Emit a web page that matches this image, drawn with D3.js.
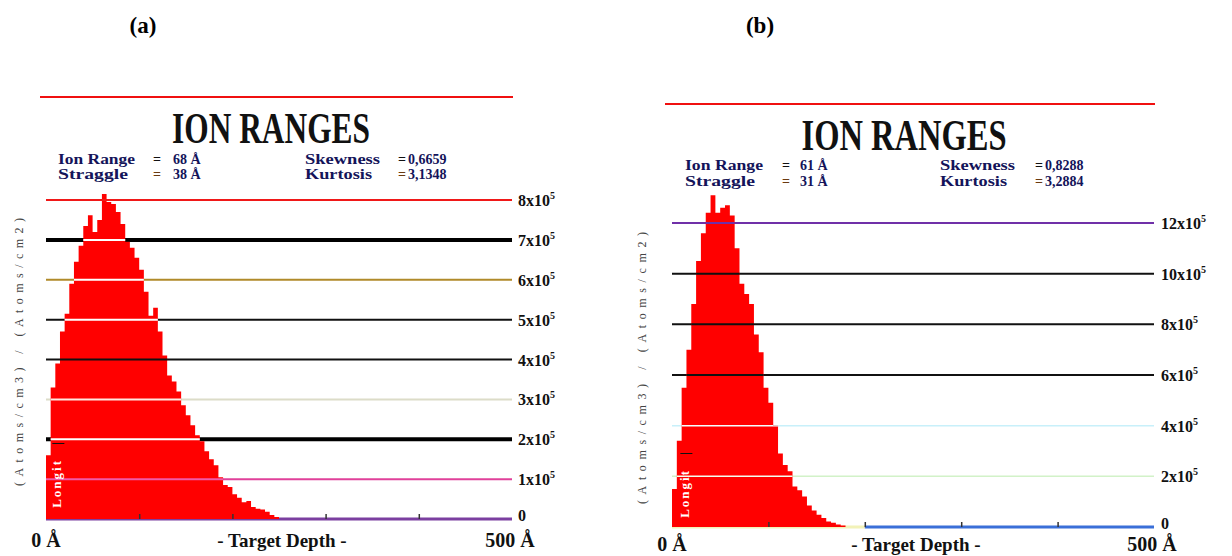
<!DOCTYPE html>
<html>
<head>
<meta charset="utf-8">
<script src="https://cdn.jsdelivr.net/npm/d3@7"></script>
<style>
  body { margin: 0; background: #fff; }
  svg { display: block; }
  text { font-family: "Liberation Serif", "Times New Roman", serif; }
</style>
</head>
<body>
<svg id="chart" width="1232" height="556"></svg>
<script>
// ---------- data ----------
// Histogram bin starts (Å), 5 Å wide bins
const depthA = [0,5,10,15,20,25,30,35,40,45,50,55,60,65,70,75,80,85,90,95,
                100,105,110,115,120,125,130,135,140,145,150,155,160,165,170,175,180,185,190,195,
                200,205,210,215,220,225,230,235,240,245];
// Ion distribution, units of 10^5 (Atoms/cm3)/(Atoms/cm2)
const countsA = [1.6,3.3,3.9,4.7,5.15,5.9,6.45,6.85,7.35,7.62,7.2,7.5,8.15,7.95,7.9,7.7,7.4,6.95,6.8,6.55,
                 6.25,5.7,5.1,5.3,4.7,4.1,3.6,3.45,3.2,2.85,2.6,2.35,2.1,1.95,1.7,1.5,1.35,1.05,0.85,0.8,
                 0.62,0.53,0.42,0.45,0.3,0.26,0.24,0.18,0.1,0.05];

const depthB = [0,5,10,15,20,25,30,35,40,45,50,55,60,65,70,75,80,85,90,95,
                100,105,110,115,120,125,130,135,140,145,150,155,160,165,170,175];
const countsB = [1.5,3.4,5.5,7.0,8.8,10.5,11.6,12.4,13.1,12.4,12.6,12.7,12.3,11.0,9.6,9.2,8.8,7.6,6.9,5.5,
                 4.9,4.0,2.9,2.45,2.2,1.6,1.45,1.2,0.85,0.65,0.48,0.36,0.22,0.17,0.1,0.06];

// Right-hand scale ticks (×10^5)
const ticksA = [0,1,2,3,4,5,6,7,8];
const tickLabelsA = ["0","1x10","2x10","3x10","4x10","5x10","6x10","7x10","8x10"];
const ticksB = [0,2,4,6,8,10,12];
const tickLabelsB = ["0","2x10","4x10","6x10","8x10","10x10","12x10"];
const tickExponent = "5";

// Depth axis
const depthDomain = [0, 500];
const depthTicks = [100,200,300,400];
const depthLabels = ["0 Å", "- Target Depth -", "500 Å"];

// Moments printed under the title
const statNamesLeft = ["Ion Range", "Straggle"];
const statNamesRight = ["Skewness", "Kurtosis"];
const statsA = { left: ["68 Å", "38 Å"], right: ["0,6659", "3,1348"] };
const statsB = { left: ["61 Å", "31 Å"], right: ["0,8288", "3,2884"] };

const titleText = "ION RANGES";
const yAxisText = "(Atoms/cm3) / (Atoms/cm2)";
const legendText = "Longit";

// ---------- styles per gridline ----------
const gridStylesA = [
  { c: "#7b3fa0", w: 3,   inside: null },      // 0
  { c: "#e0409a", w: 2,   inside: "#f05aa8" }, // 1
  { c: "#000",    w: 4,   inside: "#fff" },    // 2
  { c: "#dcdcc8", w: 2,   inside: "#ffe8e0" }, // 3
  { c: "#111",    w: 2,   inside: "#111" },    // 4
  { c: "#111",    w: 2,   inside: "#fff" },    // 5
  { c: "#b08a2a", w: 2,   inside: "#fff" },    // 6
  { c: "#000",    w: 4,   inside: "#fff" },    // 7
  { c: "#f01818", w: 2,   inside: "#f01818" }  // 8
];
const gridStylesB = [
  { c: "#3a6fd8", w: 3,   inside: null, split: 200, before: "#f2f2b8" }, // 0
  { c: "#d2f2c8", w: 1.5, inside: "#f4fff0" }, // 2
  { c: "#c8f0fa", w: 1.5, inside: "#f4ffff" }, // 4
  { c: "#111",    w: 2,   inside: "#111" },    // 6
  { c: "#111",    w: 2,   inside: "#111" },    // 8
  { c: "#111",    w: 2,   inside: "#111" },    // 10
  { c: "#7030a8", w: 2,   inside: "#7030a8" }  // 12
];

// ---------- layout ----------
const panels = [
  {
    id: "a", letter: "(a)", letterX: 143,
    rule: [40, 513, 97],
    titleX: 271, titleY: 143, titleW: 198,
    statY: [164, 179],
    statX: { name: 58, eq: 153, val: 173, name2: 305, eq2: 398, val2: 408 },
    statW: [77, 70, 75, 67],
    x0: 46, x1: 512, yBase: 519, yTop: 200, yMax: 8,
    labelX: 518, bottomY: 547,
    yLabelX: 19, yLabelY: 352, yLabelLen: 268,
    noteX: 61, noteY: 474,
    depth: depthA, counts: countsA, ticks: ticksA, tickLabels: tickLabelsA,
    grid: gridStylesA, stats: statsA
  },
  {
    id: "b", letter: "(b)", letterX: 760,
    rule: [665, 1155, 104],
    titleX: 904, titleY: 150, titleW: 205,
    statY: [170, 186],
    statX: { name: 685, eq: 782, val: 800, name2: 940, eq2: 1035, val2: 1045 },
    statW: [78, 70, 75, 67],
    x0: 672, x1: 1154, yBase: 527, yTop: 223, yMax: 12,
    labelX: 1161, bottomY: 551,
    yLabelX: 642, yLabelY: 368, yLabelLen: 272,
    noteX: 689, noteY: 484,
    depth: depthB, counts: countsB, ticks: ticksB, tickLabels: tickLabelsB,
    grid: gridStylesB, stats: statsB
  }
];

const svg = d3.select("#chart");
const defs = svg.append("defs");

function drawPanel(p) {
  const g = svg.append("g").attr("class", "panel-" + p.id);
  const x = d3.scaleLinear().domain(depthDomain).range([p.x0, p.x1]);
  const y = d3.scaleLinear().domain([0, p.yMax]).range([p.yBase, p.yTop]);

  // panel letter
  g.append("text")
    .attr("x", p.letterX).attr("y", 33)
    .attr("text-anchor", "middle")
    .attr("font-size", 23).attr("font-weight", "bold")
    .text(p.letter);

  // red rule above the title
  g.append("line")
    .attr("x1", p.rule[0]).attr("x2", p.rule[1])
    .attr("y1", p.rule[2]).attr("y2", p.rule[2])
    .attr("stroke", "#f01010").attr("stroke-width", 2);

  // title
  g.append("text")
    .attr("x", p.titleX - p.titleW / 2).attr("y", p.titleY)
    .attr("font-size", 45).attr("font-weight", "bold")
    .attr("textLength", p.titleW).attr("lengthAdjust", "spacingAndGlyphs")
    .attr("fill", "#111")
    .text(titleText);

  // statistics block
  const st = g.append("g")
    .attr("font-size", 14).attr("font-weight", "bold").attr("fill", "#14145a");
  [0, 1].forEach(r => {
    st.append("text").attr("x", p.statX.name).attr("y", p.statY[r])
      .attr("textLength", p.statW[r]).attr("lengthAdjust", "spacingAndGlyphs")
      .text(statNamesLeft[r]);
    st.append("text").attr("x", p.statX.eq).attr("y", p.statY[r]).attr("fill", r ? "#6a3a10" : "#111").text("=");
    st.append("text").attr("x", p.statX.val).attr("y", p.statY[r]).text(p.stats.left[r]);
    st.append("text").attr("x", p.statX.name2).attr("y", p.statY[r])
      .attr("textLength", p.statW[r + 2]).attr("lengthAdjust", "spacingAndGlyphs")
      .text(statNamesRight[r]);
    st.append("text").attr("x", p.statX.eq2).attr("y", p.statY[r]).attr("fill", r ? "#6a3a10" : "#111").text("=");
    st.append("text").attr("x", p.statX.val2).attr("y", p.statY[r]).text(p.stats.right[r]);
  });

  // gridlines (underneath the histogram)
  const grid = g.append("g");
  p.ticks.forEach((t, i) => {
    const s = p.grid[i];
    if (s.split !== undefined) {
      grid.append("line")
        .attr("x1", x(0)).attr("x2", x(s.split))
        .attr("y1", y(t)).attr("y2", y(t))
        .attr("stroke", s.before).attr("stroke-width", s.w);
      grid.append("line")
        .attr("x1", x(s.split)).attr("x2", x(500))
        .attr("y1", y(t)).attr("y2", y(t))
        .attr("stroke", s.c).attr("stroke-width", s.w);
    } else {
      grid.append("line")
        .attr("x1", x(0)).attr("x2", x(500))
        .attr("y1", y(t)).attr("y2", y(t))
        .attr("stroke", s.c).attr("stroke-width", s.w);
    }
  });

  // histogram as a stepped area
  const pts = p.depth.map((d, i) => ({ d, v: p.counts[i] }));
  const last = p.depth[p.depth.length - 1];
  pts.push({ d: last + (last - p.depth[p.depth.length - 2]), v: 0 });
  const area = d3.area()
    .x(d => x(d.d))
    .y0(y(0))
    .y1(d => y(d.v))
    .curve(d3.curveStepAfter);

  g.append("path")
    .attr("d", area(pts))
    .attr("fill", "#ff0000");

  defs.append("clipPath").attr("id", "hist-" + p.id)
    .append("path").attr("d", area(pts));

  // gridline segments where they run across the histogram
  const inner = g.append("g").attr("clip-path", "url(#hist-" + p.id + ")");
  p.ticks.forEach((t, i) => {
    const s = p.grid[i];
    if (!s.inside) return;
    inner.append("line")
      .attr("x1", x(0)).attr("x2", x(500))
      .attr("y1", y(t)).attr("y2", y(t))
      .attr("stroke", s.inside).attr("stroke-width", Math.min(s.w, 2));
  });

  // depth ticks on the baseline
  const ax = g.append("g")
    .attr("transform", `translate(0,${y(0)})`)
    .call(d3.axisTop(x).tickValues(depthTicks).tickSize(5).tickFormat(""));
  ax.select(".domain").remove();
  ax.selectAll(".tick line").attr("stroke", "#333").attr("stroke-width", 1.5);

  // right-hand tick labels
  const lab = g.append("g").attr("font-size", 16).attr("font-weight", "bold").attr("fill", "#111");
  p.ticks.forEach((t, i) => {
    const tx = lab.append("text").attr("x", p.labelX).attr("y", y(t) + (t === 0 ? 2 : 6));
    tx.append("tspan").text(p.tickLabels[i]);
    if (t !== 0) {
      tx.append("tspan").attr("dy", -7).attr("font-size", 10).text(tickExponent);
    }
  });

  // depth axis labels
  const bl = g.append("g").attr("font-size", 20).attr("font-weight", "bold").attr("fill", "#111");
  bl.append("text").attr("x", x(0)).attr("y", p.bottomY).attr("text-anchor", "middle").text(depthLabels[0]);
  bl.append("text").attr("x", x(250) + 3).attr("y", p.bottomY).attr("text-anchor", "middle")
    .attr("font-size", 19).text(depthLabels[1]);
  bl.append("text").attr("x", x(500) - 2).attr("y", p.bottomY).attr("text-anchor", "middle").text(depthLabels[2]);

  // vertical axis title
  g.append("text")
    .attr("transform", `translate(${p.yLabelX},${p.yLabelY}) rotate(-90)`)
    .attr("x", -p.yLabelLen / 2).attr("y", 4)
    .attr("font-size", 12).attr("fill", "#444")
    .attr("textLength", p.yLabelLen).attr("lengthAdjust", "spacing")
    .text(yAxisText);

  // legend note drawn across the histogram
  const note = g.append("text")
    .attr("transform", `translate(${p.noteX},${p.noteY}) rotate(-90)`)
    .attr("text-anchor", "middle")
    .attr("font-size", 13).attr("font-weight", "bold")
    .attr("letter-spacing", 2);
  note.append("tspan").attr("fill", "#fff").text(legendText);
  note.append("tspan").attr("fill", "#111").attr("dx", 14).text("|");
}

panels.forEach(drawPanel);
</script>
</body>
</html>
